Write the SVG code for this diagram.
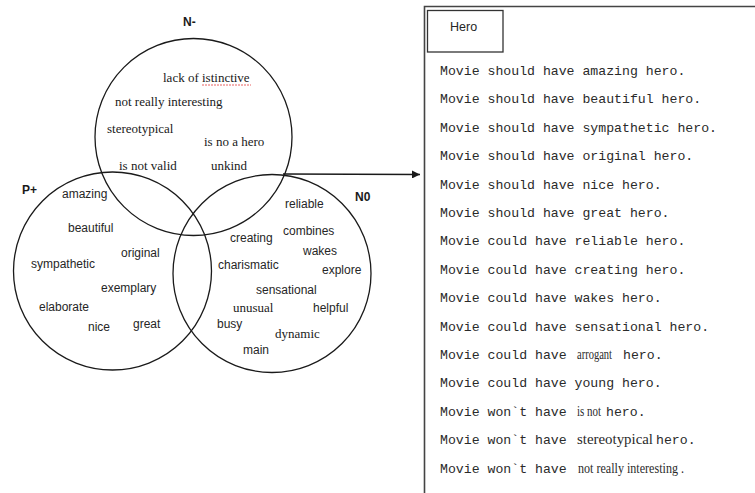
<svg xmlns="http://www.w3.org/2000/svg" width="755" height="493" viewBox="0 0 755 493">
<defs>
<style>
.c{fill:none;stroke:#1a1a1a;stroke-width:1.3}
.s{font-family:"Liberation Sans",Arial,sans-serif;font-size:12px;fill:#262626}
.b{font-family:"Liberation Sans",Arial,sans-serif;font-size:12px;font-weight:bold;fill:#1a1a1a}
.r{font-family:"Liberation Serif","Times New Roman",serif;font-size:13px;fill:#1a1a1a}
.m{font-family:"Liberation Mono","Courier New",monospace;font-size:13.2px;fill:#2a2a2a}
.ri{font-family:"Liberation Serif","Times New Roman",serif;font-size:14px;fill:#2a2a2a}
.box{fill:none;stroke:#444;stroke-width:1.6}
</style>
<marker id="ah" viewBox="0 0 10 10" refX="10" refY="5" markerWidth="10" markerHeight="8" markerUnits="userSpaceOnUse" orient="auto">
<path d="M0,0 L10,5 L0,10 z" fill="#1a1a1a"/>
</marker>
</defs>
<rect width="755" height="493" fill="#fff"/>

<g id="set-n-minus">
<circle class="c" cx="193.5" cy="137" r="98.5"/>
<text class="b" x="183" y="26">N-</text>
<text class="r" x="163" y="82">lack of istinctive</text>
<line x1="202" y1="85" x2="251" y2="85" stroke="#e23b3b" stroke-width="0.8" stroke-dasharray="2,1"/>
<text class="r" x="115" y="106">not really interesting</text>
<text class="r" x="107" y="133">stereotypical</text>
<text class="r" x="204" y="146">is no a hero</text>
<text class="r" x="119" y="170">is not valid</text>
<text class="r" x="211" y="170">unkind</text>
</g>

<g id="set-p-plus">
<circle class="c" cx="112.5" cy="271" r="99"/>
<text class="b" x="22" y="194">P+</text>
<text class="s" x="62" y="198">amazing</text>
<text class="s" x="68" y="232">beautiful</text>
<text class="s" x="121" y="257">original</text>
<text class="s" x="31" y="268">sympathetic</text>
<text class="s" x="101" y="292">exemplary</text>
<text class="s" x="39" y="311">elaborate</text>
<text class="s" x="88" y="331">nice</text>
<text class="s" x="133" y="328">great</text>
</g>

<g id="set-n0">
<circle class="c" cx="272" cy="273.5" r="99"/>
<text class="b" x="355" y="201">N0</text>
<text class="s" x="285" y="208">reliable</text>
<text class="s" x="283" y="235">combines</text>
<text class="s" x="230" y="242">creating</text>
<text class="s" x="303" y="255">wakes</text>
<text class="s" x="218" y="269">charismatic</text>
<text class="s" x="322" y="274">explore</text>
<text class="s" x="256" y="294">sensational</text>
<text class="r" x="233" y="312">unusual</text>
<text class="s" x="313" y="312">helpful</text>
<text class="s" x="217" y="328">busy</text>
<text class="r" x="275" y="338">dynamic</text>
<text class="s" x="243" y="354">main</text>
</g>

<g id="connectors">
<line x1="283" y1="174" x2="420" y2="174.5" stroke="#1a1a1a" stroke-width="1.3" marker-end="url(#ah)"/>
</g>

<g id="hero-panel">
<path class="box" d="M424.5,495 V6.5 H757"/>
<rect x="427.5" y="10.5" width="75.5" height="41.5" fill="none" stroke="#333" stroke-width="1.3"/>
<text class="s" x="450" y="31" style="font-size:12.5px">Hero</text>
</g>

<g id="hero-sentences">
<text class="m" x="440" y="75">Movie should have amazing hero.</text>
<text class="m" x="440" y="103.4">Movie should have beautiful hero.</text>
<text class="m" x="440" y="131.8">Movie should have sympathetic hero.</text>
<text class="m" x="440" y="160.2">Movie should have original hero.</text>
<text class="m" x="440" y="188.6">Movie should have nice hero.</text>
<text class="m" x="440" y="217">Movie should have great hero.</text>
<text class="m" x="440" y="245.4">Movie could have reliable hero.</text>
<text class="m" x="440" y="273.8">Movie could have creating hero.</text>
<text class="m" x="440" y="302.2">Movie could have wakes hero.</text>
<text class="m" x="440" y="330.6">Movie could have sensational hero.</text>
<text class="m" x="440" y="359">Movie could have </text>
<text class="ri" x="577" y="359" textLength="35" lengthAdjust="spacingAndGlyphs">arrogant</text>
<text class="m" x="623" y="359">hero.</text>
<text class="m" x="440" y="387.4">Movie could have young hero.</text>
<text class="m" x="440" y="415.8">Movie won`t have </text>
<text class="ri" x="577" y="415.8" textLength="24" lengthAdjust="spacingAndGlyphs">is not</text>
<text class="m" x="606" y="415.8">hero.</text>
<text class="m" x="440" y="444.2">Movie won`t have </text>
<text class="ri" x="577" y="444.2" textLength="76" lengthAdjust="spacingAndGlyphs">stereotypical</text>
<text class="m" x="656" y="444.2">hero.</text>
<text class="m" x="440" y="472.6">Movie won`t have </text>
<text class="ri" x="578" y="472.6" textLength="106" lengthAdjust="spacingAndGlyphs">not really interesting .</text>
</g>
</svg>
